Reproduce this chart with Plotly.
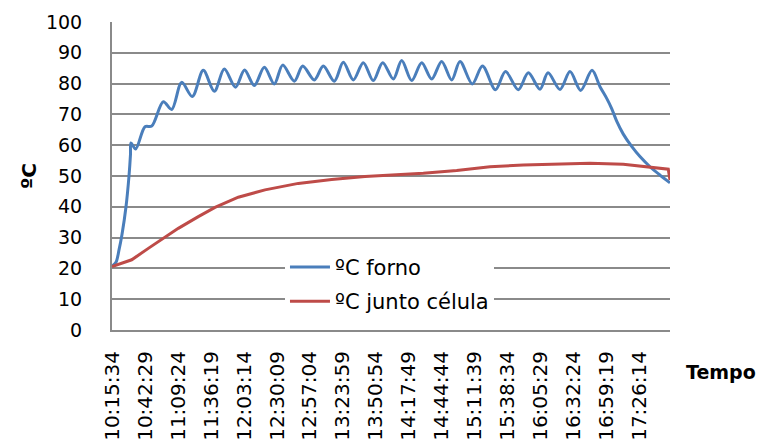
import plotly.graph_objects as go

DAY = "2000-01-01 "

forno_time = [
    "10:15:34", "10:18:50", "10:21:17", "10:23:43", "10:26:59", "10:29:26", "10:30:39", "10:31:04",
    "10:34:54", "10:42:29", "10:47:57", "10:57:25", "11:04:16", "11:12:25", "11:21:04", "11:30:02",
    "11:39:01", "11:47:10", "11:56:18", "12:03:39", "12:11:38", "12:19:48", "12:27:57", "12:34:48",
    "12:44:16", "12:51:07", "13:00:35", "13:07:55", "13:16:54", "13:24:14", "13:32:24", "13:40:33",
    "13:48:42", "13:56:22", "14:05:01", "14:11:52", "14:20:01", "14:28:11", "14:36:20", "14:44:29",
    "14:52:39", "14:59:25", "15:09:27", "15:17:46", "15:28:23", "15:36:32", "15:46:59", "15:55:08",
    "16:04:41", "16:11:12", "16:20:59", "16:29:09", "16:37:52", "16:47:05", "16:53:37", "16:59:05",
    "17:03:09", "17:07:14", "17:12:37", "17:19:28", "17:26:14", "17:34:24", "17:42:33", "17:50:43",
]
forno_val = [
    20.7, 22.0, 26.0, 31.0, 40.0, 50.0, 57.0, 60.7,
    58.8, 66.0, 66.2, 74.1, 71.6, 80.4, 75.8, 84.3,
    77.5, 84.7, 78.8, 84.4, 79.4, 85.3, 79.9, 86.0,
    80.8, 85.7, 81.2, 85.7, 80.8, 86.9, 81.2, 86.8,
    81.0, 86.8, 81.5, 87.5, 81.0, 86.8, 81.5, 87.2,
    81.2, 87.2, 79.9, 85.7, 78.0, 83.9, 78.0, 83.5,
    78.2, 83.5, 78.1, 83.9, 77.8, 84.3, 79.0, 75.2,
    71.9, 67.8, 63.6, 59.6, 56.3, 53.0, 50.3, 47.8,
]

# ºC junto célula (next to the cell)
celula_time = [
    "10:15:34", "10:31:38", "10:45:11", "10:57:25", "11:09:39", "11:25:58", "11:39:35", "11:58:35",
    "12:20:22", "12:47:31", "13:14:46", "13:41:56", "14:06:24", "14:29:29", "14:56:44", "15:23:53",
    "15:51:03", "16:18:18", "16:45:27", "17:12:37", "17:28:56", "17:49:19", "17:50:43",
]
celula_val = [
    20.6, 22.8, 26.5, 29.8, 33.0, 36.8, 39.8, 43.1,
    45.5, 47.6, 48.9, 49.8, 50.3, 50.9, 51.8, 53.0,
    53.6, 53.9, 54.1, 53.8, 53.0, 52.2, 48.7,
]

tick_labels = [
    "10:15:34", "10:42:29", "11:09:24", "11:36:19", "12:03:14", "12:30:09", "12:57:04",
    "13:23:59", "13:50:54", "14:17:49", "14:44:44", "15:11:39", "15:38:34", "16:05:29",
    "16:32:24", "16:59:19", "17:26:14",
]
y_ticks = [0, 10, 20, 30, 40, 50, 60, 70, 80, 90, 100]

BLUE = "#4a7ebb"
RED = "#be4b48"
GRID = "#8a8a8a"
FONT = "DejaVu Sans"

fig = go.Figure()
fig.add_trace(go.Scatter(
    x=[DAY + t for t in forno_time], y=forno_val, mode="lines", name="ºC forno",
    line=dict(color=BLUE, width=3, shape="spline", smoothing=0.9), legendgroup="a",
))
fig.add_trace(go.Scatter(
    x=[DAY + t for t in celula_time], y=celula_val, mode="lines", name="ºC junto célula",
    line=dict(color=RED, width=3), legendgroup="b",
))

fig.update_layout(
    width=760, height=443,
    margin=dict(l=112, r=90, t=22, b=113),
    paper_bgcolor="white", plot_bgcolor="white",
    font=dict(family=FONT, size=18, color="black"),
    showlegend=True,
    legend=dict(
        x=0.31, y=0.27, xanchor="left", yanchor="top",
        bgcolor="white", font=dict(family=FONT, size=21, color="black"),
        tracegroupgap=4, itemwidth=40,
    ),
    xaxis=dict(
        type="date",
        range=[DAY + forno_time[0], DAY + forno_time[-1]],
        tickmode="array",
        tickvals=[DAY + t for t in tick_labels],
        ticktext=tick_labels,
        tickangle=-90,
        tickfont=dict(family=FONT, size=20),
        showgrid=False, zeroline=False,
        showline=True, linecolor=GRID, linewidth=2,
        ticks="", ticklabelstandoff=11, automargin=False,
    ),
    yaxis=dict(
        range=[0, 100], tickmode="array", tickvals=y_ticks,
        tickfont=dict(family=FONT, size=19),
        showgrid=True, gridcolor=GRID, gridwidth=2,
        zeroline=False, showline=True, linecolor=GRID, linewidth=2,
        ticks="", ticklabelstandoff=24, automargin=False,
        title=dict(text="<b>ºC</b>", font=dict(family=FONT, size=20), standoff=4),
    ),
    annotations=[dict(
        text="<b>Tempo</b>", xref="paper", yref="paper", x=1.0 + (721 - 670) / 558, y=(330 - 372) / 308,
        xanchor="center", yanchor="middle", showarrow=False,
        font=dict(family=FONT, size=19, color="black"),
    )],
)

fig.write_html("out.html")
